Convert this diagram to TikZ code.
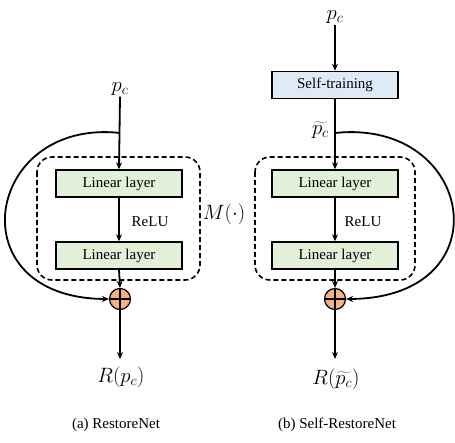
\documentclass[tikz,border=0pt]{standalone}
\usepackage{fontspec}
\setmainfont{Liberation Serif}
\usepackage{tikz}
\usetikzlibrary{arrows.meta,calc}

\definecolor{layergreen}{HTML}{E2EFD9}
\definecolor{trainblue}{HTML}{DEEBF7}
\definecolor{sumorange}{HTML}{F4B183}

\begin{document}
\begin{tikzpicture}[x=1pt,y=-1pt,
	layer/.style={draw,line width=1.5pt,fill=layergreen,minimum width=126pt,minimum height=27pt,inner sep=0pt,font=\fontsize{15}{17}\selectfont},
	trainbox/.style={layer,fill=trainblue},
	flow/.style={line width=1.8pt,-{Stealth[length=7pt,width=6pt]}},
	mblock/.style={draw,dashed,dash pattern=on 5pt off 3pt,line width=1.6pt,rounded corners=15pt},
	sumnode/.style={draw,circle,line width=1.2pt,fill=sumorange,minimum size=21pt,inner sep=0pt},
	txt/.style={font=\fontsize{15}{17}\selectfont},
	mth/.style={font=\fontsize{22}{25}\selectfont,inner sep=1pt}]
	
	\useasboundingbox (0,0) rectangle (455,443);
	
	% (a) RestoreNet
	\node[mth] (inA) at (120,89) {$p_c$};
	\draw[mblock] (37,157) rectangle (200,280);
	\node[layer] (linA1) at (119,183.5) {Linear layer};
	\node[layer] (linA2) at (119,255.5) {Linear layer};
	\node[txt] (reluA) at (150,222) {ReLU};
	\node[mth] (mA) at (224,214) {$M(\cdot)$};
	\node[sumnode] (sumA) at (120,299) {};
	\draw[line width=1.2pt] (sumA.north) -- (sumA.south) (sumA.west) -- (sumA.east);
	\coordinate (splitA) at (120,133);
	\coordinate (endA) at (120,359);
	\node[mth] (outA) at (121,377) {$R(p_c)$};
	\node[txt] (capA) at (116,425) {(a) RestoreNet};
	
	\draw[flow] (inA.south) -- (linA1.north);
	\draw[flow] (linA1.south) -- (linA2.north);
	\draw[flow] (linA2.south) -- (sumA.north);
	\draw[flow] (sumA.south) -- (endA);
	\draw[flow] (splitA) .. controls (-15,118) and (-45,298) .. (sumA.west);
	
	% (b) Self-RestoreNet
	\node[mth] (inB) at (335,17) {$p_c$};
	\node[trainbox] (selfB) at (335,85) {Self-training};
	\node[mth,anchor=east] (tildeB) at (330,130) {$\widetilde{p_c}$};
	\draw[mblock] (255,157) rectangle (415,280);
	\node[layer] (linB1) at (335,183.5) {Linear layer};
	\node[layer] (linB2) at (335,255.5) {Linear layer};
	\node[txt] (reluB) at (363,222) {ReLU};
	\node[sumnode] (sumB) at (335,299) {};
	\draw[line width=1.2pt] (sumB.north) -- (sumB.south) (sumB.west) -- (sumB.east);
	\coordinate (splitB) at (335,133);
	\coordinate (endB) at (335,359);
	\node[mth] (outB) at (336,379) {$R(\widetilde{p_c})$};
	\node[txt] (capB) at (337,425) {(b) Self-RestoreNet};
	
	\draw[flow] (inB.south) -- (selfB.north);
	\draw[flow] (selfB.south) -- (linB1.north);
	\draw[flow] (linB1.south) -- (linB2.north);
	\draw[flow] (linB2.south) -- (sumB.north);
	\draw[flow] (sumB.south) -- (endB);
	\draw[flow] (splitB) .. controls (475,118) and (505,298) .. (sumB.east);
	
\end{tikzpicture}
\end{document}
